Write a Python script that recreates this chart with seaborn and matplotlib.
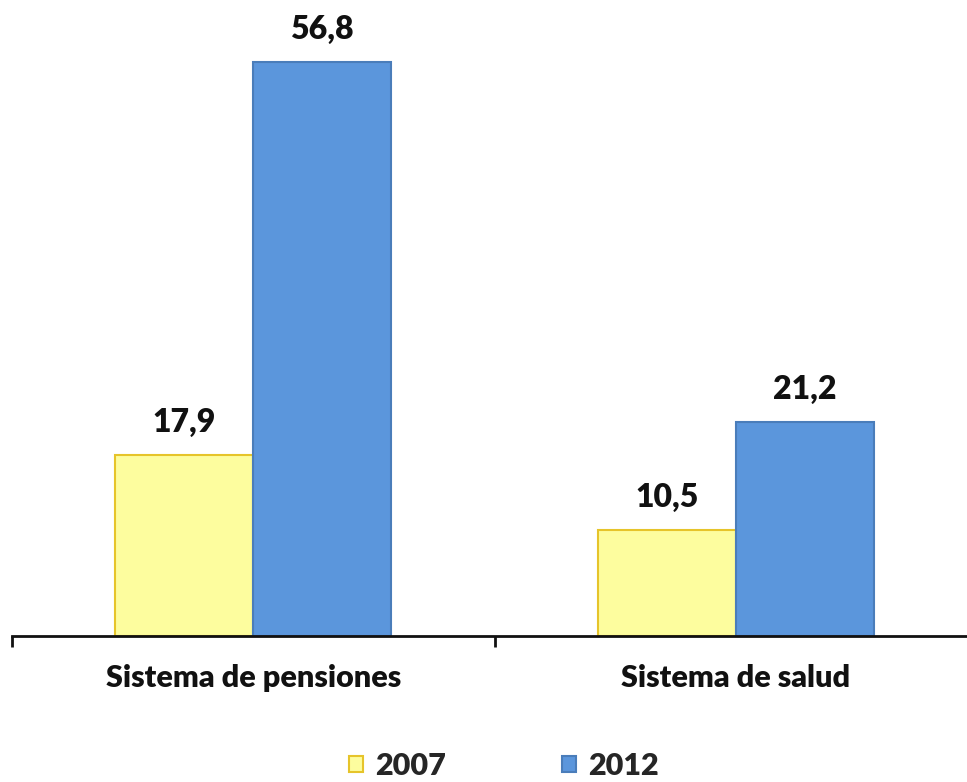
import matplotlib
matplotlib.use("Agg")
import matplotlib.pyplot as plt
import seaborn as sns
import pandas as pd
from matplotlib.patches import Patch

categories = ["Sistema de pensiones", "Sistema de salud"]
years = ["2007", "2012"]
values_2007 = [17.9, 10.5]
values_2012 = [56.8, 21.2]

df = pd.DataFrame({
    "categoria": categories * 2,
    "anio": [years[0]] * 2 + [years[1]] * 2,
    "valor": values_2007 + values_2012,
})

sns.set_theme(style="white")
plt.rcParams["font.family"] = ["Lato", "DejaVu Sans"]

fills = {"2007": "#FDFD9E", "2012": "#5B96DC"}
edges = {"2007": "#E6C42A", "2012": "#4A7DBA"}

fig = plt.figure(figsize=(9.67, 7.82), dpi=100)
ax = fig.add_axes([12 / 967, (782 - 636) / 782, 965 / 967, 636 / 782])

sns.barplot(data=df, x="categoria", y="valor", hue="anio", order=categories,
            hue_order=years, palette=fills, width=0.572, ax=ax, legend=False,
            saturation=1)

for cont, yr in zip(ax.containers, years):
    for bar in cont:
        bar.set_edgecolor(edges[yr])
        bar.set_linewidth(1.5)
    labels = [f"{b.get_height():.1f}".replace(".", ",") for b in cont]
    ax.bar_label(cont, labels=labels, padding=13, fontsize=23, fontweight="heavy",
                 color="#111111")

ax.set_ylim(0, 62.9)
ax.set_xlim(-0.5, 1.5)
ax.set_xlabel("")
ax.set_ylabel("")
ax.set_yticks([])
for s in ["left", "right", "top"]:
    ax.spines[s].set_visible(False)
ax.spines["bottom"].set_linewidth(2)
ax.spines["bottom"].set_color("#111111")

ax.set_xticks([-0.5, 0.5, 1.5], minor=True)
ax.tick_params(axis="x", which="minor", length=8, width=2, color="#111111",
               direction="out", bottom=True)
ax.tick_params(axis="x", which="major", length=0, pad=20, labelsize=22)
for t in ax.get_xticklabels():
    t.set_fontweight("heavy")
    t.set_color("#111111")

handles = [Patch(facecolor=fills[y], edgecolor=edges[y], linewidth=1.5, label=y)
           for y in years]
fig.legend(handles=handles, loc="center", bbox_to_anchor=(504 / 967, 1 - 766 / 782),
           ncol=2, frameon=False, prop={"weight": "heavy", "size": 22},
           handlelength=0.45, handleheight=0.45, handletextpad=0.4,
           columnspacing=3.8, borderpad=0.1)

fig.savefig("out.png", dpi=100, facecolor="white")
